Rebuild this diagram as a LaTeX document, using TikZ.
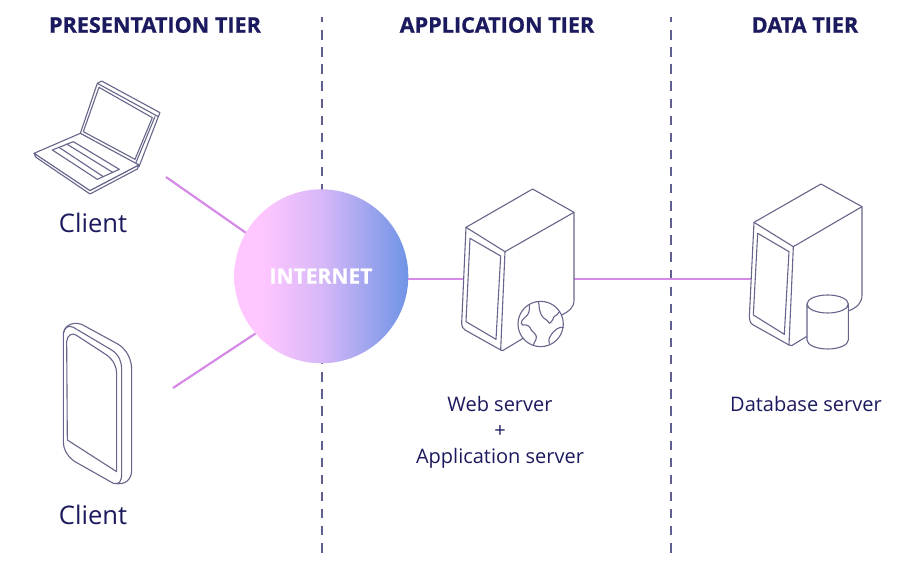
\documentclass[tikz,border=0pt]{standalone}
\usepackage{fontspec}
\setmainfont{Open Sans}
\newfontfamily\heavyfont[UprightFont=*,UprightFeatures={FakeBold=0},BoldFeatures={FakeBold=0.8}]{Open Sans}
\definecolor{navy}{HTML}{1C1A5E}
\definecolor{dashc}{HTML}{5F5F90}
\definecolor{iconc}{HTML}{66668C}
\definecolor{linkc}{HTML}{D68AE8}
\definecolor{pinkc}{HTML}{FFC6FF}
\definecolor{bluec}{HTML}{6F94E6}
\pgfdeclarehorizontalshading{inetshade}{100bp}{color(0bp)=(pinkc); color(33bp)=(pinkc); color(50bp)=(pinkc!72!bluec); color(75bp)=(bluec); color(100bp)=(bluec)}
\tikzset{
  tier/.style={font=\heavyfont\bfseries\fontsize{21.6}{26}\selectfont,text=navy,inner sep=0pt},
  lbl/.style={font=\fontsize{25.6}{30}\selectfont,text=navy,inner sep=0pt},
  sub/.style={font=\fontsize{20}{26}\selectfont,text=navy,inner sep=0pt,align=center},
  divider/.style={draw=dashc,line width=1.6pt,dash pattern=on 9.4pt off 7.7pt,dash phase=4pt},
  link/.style={draw=linkc,line width=2.2pt},
  icon/.style={draw=iconc,line width=1.1pt,line join=round,fill=white},
  iconl/.style={draw=iconc,line width=1.1pt,line join=round,line cap=round},
  zoomA/.style={shift={(20,70)},x=0.3333pt,y=0.3333pt},
  zoomB/.style={shift={(40,310)},x=0.3333pt,y=0.3333pt},
  zoomC/.style={shift={(450,180)},x=0.3333pt,y=0.3333pt},
  zoomD/.style={shift={(740,175)},x=0.3333pt,y=0.3333pt}
}
\begin{document}
\begin{tikzpicture}[x=1pt,y=1pt,yscale=-1]
\useasboundingbox (0,0) rectangle (916,574);
\fill[white] (0,0) rectangle (916,574);
% dividers
\coordinate (d1t) at (322,17); \coordinate (d1b) at (322,555);
\coordinate (d2t) at (671,17); \coordinate (d2b) at (671,555);
\path[divider] (d1t) -- (d1b);
\path[divider] (d2t) -- (d2b);
% titles
\node[tier] (t1) at (155,25) {PRESENTATION TIER};
\node[tier] (t2) at (497,25) {APPLICATION TIER};
\node[tier] (t3) at (805,25) {DATA TIER};
% anchors for connectors
\coordinate (lapEnd) at (166,177);
\coordinate (phoneEnd) at (173,388);
\coordinate (webL) at (464,279);
\coordinate (webR) at (574,279);
\coordinate (dbL) at (752,279);
% internet
\node[circle,minimum size=174pt,inner sep=0pt,shading=inetshade,shading angle=0] (internet) at (321.3,276.3) {};
\node[font=\heavyfont\bfseries\fontsize{21}{25}\selectfont,text=white,inner sep=0pt] (inettxt) at (321,276) {INTERNET};
\path[link] (lapEnd) -- (internet.150);
\path[link] (phoneEnd) -- (internet.221);
\coordinate (inetR) at (408,279);
\path[link] (inetR) -- (webL);
\path[link] (webR) -- (dbL);
% laptop
\begin{scope}[zoomA]
\path[icon] (181,190) -- (232,40) -- (245,33) -- (420,128) -- (415,140) -- (357,290) -- cycle;
\path[iconl] (232,40) -- (415,140);
\path[iconl] (237,52) -- (397,143) -- (345,268) -- (190,185) -- cycle;
\path[iconl] (181,190) -- (187,196) -- (345,285) -- (357,283);
\path[iconl] (345,285) -- (405,140);
\path[icon] (42,250) -- (181,190) -- (357,285) -- (210,362) -- cycle;
\path[icon] (42,250) -- (48,262) -- (210,372) -- (352,297) -- (357,285) -- (210,362) -- cycle;
\path[iconl] (97,240) -- (160,215) -- (298,298) -- (232,328) -- cycle;
\path[iconl] (117,232) -- (250,320);
\path[iconl] (140,222) -- (278,307);
\end{scope}
% phone
\begin{scope}[zoomB]
\path[iconl] (70,70) .. controls (72,50) and (95,33) .. (125,43) -- (235,103) .. controls (262,120) and (275,150) .. (275,180) -- (275,480) .. controls (275,510) and (255,526) .. (225,520);
\path[iconl] (70,70) .. controls (72,55) and (85,43) .. (100,52) -- (215,120) .. controls (238,135) and (245,155) .. (245,180) -- (245,490) .. controls (245,515) and (238,525) .. (220,520) -- (105,455) .. controls (85,442) and (70,420) .. (70,395) -- cycle;
\path[iconl] (80,95) .. controls (82,75) and (95,68) .. (108,75) -- (200,135) .. controls (220,150) and (230,170) .. (230,190) -- (230,485) -- (82,390) -- cycle;
\end{scope}
% web server
\begin{scope}[zoomC]
\path[icon] (48,142) -- (248,27) -- (372,97) -- (372,360) .. controls (372,385) and (355,395) .. (335,405) -- (158,512) -- (152,510) -- (45,450) .. controls (38,445) and (35,440) .. (35,430) -- cycle;
\path[iconl] (48,142) -- (165,215) -- (372,97);
\path[iconl] (165,215) -- (152,510);
\path[iconl] (60,175) -- (152,228) -- (138,478) -- (48,425) -- cycle;
\path[icon] (272,432) circle[radius=68];
\path[iconl] (238,376) .. controls (240,395) and (235,405) .. (225,412) .. controls (215,420) and (210,430) .. (218,435) .. controls (232,432) and (240,440) .. (245,452) .. controls (255,462) and (262,465) .. (258,478) .. controls (255,488) and (250,490) .. (250,496);
\path[iconl] (265,366) .. controls (270,380) and (265,385) .. (272,400) .. controls (280,420) and (290,415) .. (298,430) .. controls (305,428) and (310,415) .. (312,410) .. controls (320,405) and (325,403) .. (328,395);
\path[iconl] (340,442) .. controls (325,440) and (315,450) .. (305,462) .. controls (298,470) and (295,478) .. (298,490);
\end{scope}
% database server
\begin{scope}[zoomD]
\path[icon] (42,142) -- (243,27) -- (366,95) -- (366,360) .. controls (366,385) and (350,398) .. (325,408) -- (155,512) -- (147,510) -- (40,450) .. controls (30,445) and (28,435) .. (28,425) -- cycle;
\path[iconl] (42,142) -- (160,215) -- (366,95);
\path[iconl] (160,215) -- (147,510);
\path[iconl] (53,175) -- (147,230) -- (133,478) -- (40,420) -- cycle;
\path[icon] (201,387) -- (201,495) arc[start angle=180,end angle=360,x radius=62,y radius=-27] -- (325,387) arc[start angle=0,end angle=180,x radius=62,y radius=27] -- cycle;
\path[iconl] (263,387) ++(-62,0) arc[start angle=180,end angle=360,x radius=62,y radius=27];
\end{scope}
% labels
\node[lbl] (c1) at (93,223) {Client};
\node[lbl] (c2) at (93,515) {Client};
\node[sub] (web) at (500,432) {Web server\\+\\Application server};
\node[sub] (db) at (806,404) {Database server};
\end{tikzpicture}
\end{document}
